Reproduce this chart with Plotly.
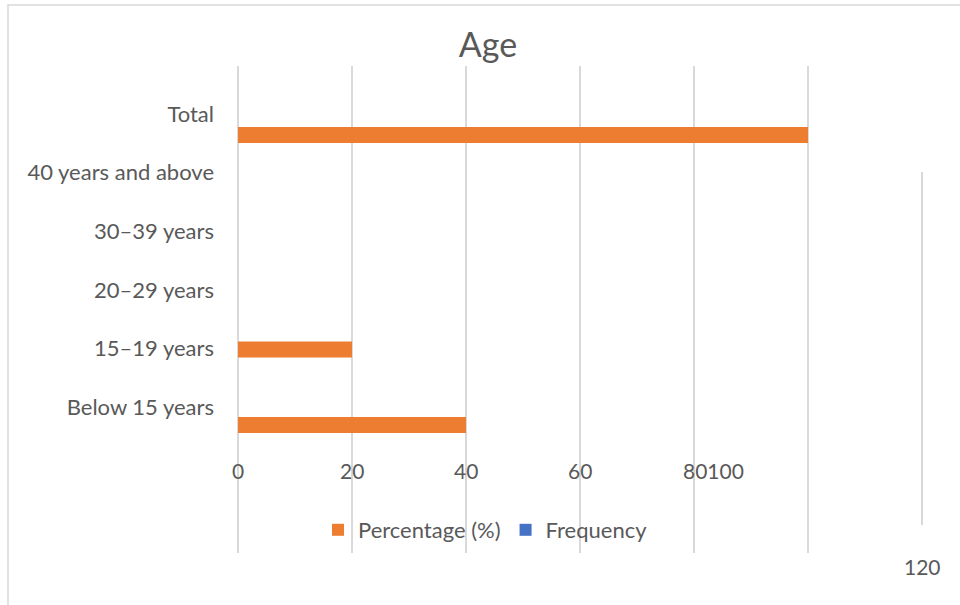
import plotly.graph_objects as go

# ---- data ----
categories = ["Below 15 years", "15\u201319 years", "20\u201329 years",
              "30\u201339 years", "40 years and above", "Total"]
percentage = [40, 20, None, None, None, 100]
frequency = [0, 0, None, None, None, 0]
x_tick_vals = [0, 20, 40, 60]
x_tick_text = ["0", "20", "40", "60"]
grid_vals = [0, 20, 40, 60, 80, 100]

W, H = 960, 605
TXT = "#595959"
GRID = "#d9d9d9"
FONT = "Lato"
PXU = 5.7  # pixels per x unit


def py(px):
    return 1 - px / H


fig = go.Figure()
fig.add_trace(go.Bar(
    y=categories, x=percentage, orientation="h", name="Percentage (%)",
    marker=dict(color="#ED7D31", line=dict(width=0)),
    width=0.273, offset=[-0.444, -0.154, -0.45, -0.45, -0.45, -0.495],
))
fig.add_trace(go.Bar(
    y=categories, x=frequency, orientation="h", name="Frequency",
    marker=dict(color="#4472C4", line=dict(width=0)),
    width=0.273, offset=0.0,
))

annotations = []
for v, t in zip(x_tick_vals, x_tick_text):
    annotations.append(dict(x=v, y=py(470), xref="x", yref="paper", text=t,
                            showarrow=False, xanchor="center", yanchor="middle",
                            font=dict(family=FONT, size=21, color=TXT)))
annotations.append(dict(x=80, y=py(470), xref="x", yref="paper", text="80100",
                        showarrow=False, xanchor="left", yanchor="middle", xshift=-13,
                        font=dict(family=FONT, size=21, color=TXT)))
annotations.append(dict(x=120, y=py(566), xref="x", yref="paper", text="120",
                        showarrow=False, xanchor="center", yanchor="middle",
                        font=dict(family=FONT, size=21, color=TXT)))

shapes = [
    dict(type="line", xref="x", yref="paper", x0=120, x1=120,
         y0=py(525), y1=py(172), line=dict(color=GRID, width=2), layer="below"),
    dict(type="rect", xref="paper", yref="paper", x0=8 / W, x1=1.05,
         y0=-0.05, y1=py(5), line=dict(color=GRID, width=1.5), layer="below"),
]

x_lo = -3 / PXU
fig.update_layout(
    width=W, height=H,
    margin=dict(l=0, r=0, t=0, b=0),
    paper_bgcolor="white", plot_bgcolor="white",
    font=dict(family=FONT, color=TXT, size=21),
    title=dict(text="Age", x=488 / W, xanchor="center", y=py(45), yanchor="middle",
               font=dict(family=FONT, size=34, color=TXT)),
    barmode="overlay",
    showlegend=True,
    legend=dict(orientation="h", x=318 / W, xanchor="left", y=py(530), yanchor="middle",
                font=dict(family=FONT, size=22, color=TXT), bgcolor="rgba(0,0,0,0)",
                traceorder="normal"),
    xaxis=dict(range=[x_lo, 121], domain=[(238 + x_lo * PXU) / W, (238 + 121 * PXU) / W],
               tickvals=grid_vals, showticklabels=False, showgrid=True,
               gridcolor=GRID, gridwidth=2, zeroline=False, showline=False,
               ticks="", fixedrange=True),
    yaxis=dict(type="category", categoryorder="array", categoryarray=categories,
               range=[-2.49, 5.82], domain=[py(553), py(66)],
               showgrid=False, zeroline=False, showline=False, ticks="",
               ticklabelstandoff=20, automargin=False,
               tickfont=dict(family=FONT, size=22, color=TXT)),
    annotations=annotations,
    shapes=shapes,
)

fig.write_html("out.html")
